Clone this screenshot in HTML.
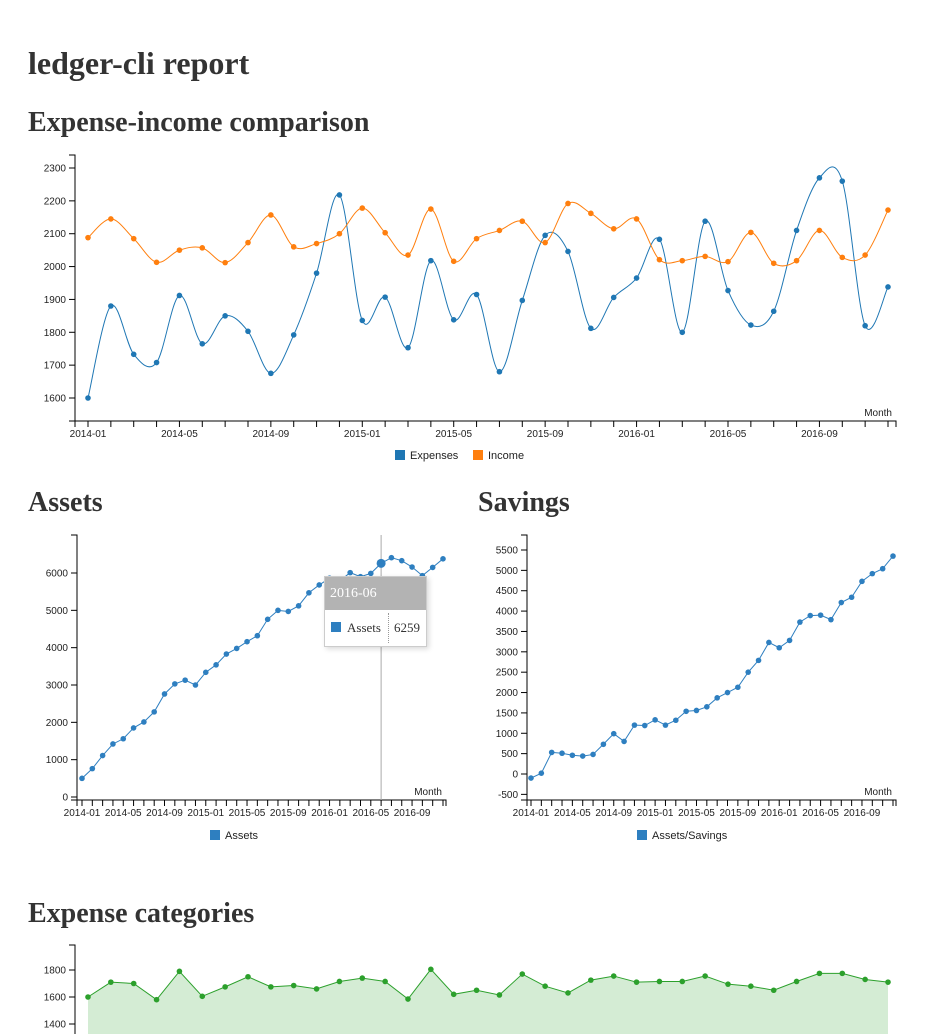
<!DOCTYPE html>
<html><head><meta charset="utf-8">
<style>
body{margin:0;background:#fff;width:927px;height:1034px;overflow:hidden;font-family:"Liberation Serif",serif;color:#333}
h1,h2{position:absolute;margin:0;font-weight:bold;font-family:"Liberation Serif",serif;white-space:nowrap}
h1{font-size:32px;left:28px;top:45px}
h2{font-size:28px}
svg{position:absolute;left:0;top:0}
svg text{font-family:"Liberation Sans",sans-serif;font-size:10px;fill:#222}
</style></head><body>
<h1>ledger-cli report</h1>
<h2 style="left:28px;top:107px">Expense-income comparison</h2>
<h2 style="left:28px;top:487px">Assets</h2>
<h2 style="left:478px;top:487px">Savings</h2>
<h2 style="left:28px;top:898px">Expense categories</h2>
<svg id="chart" width="927" height="1034"></svg>
<div style="position:absolute;left:324px;top:576px;width:101px;height:69px;background:#fff;border:1px solid #ccc;box-shadow:2px 2px 5px rgba(0,0,0,0.15);font-family:'Liberation Serif',serif">
 <div style="background:#b3b3b3;color:#fff;height:33px;line-height:33px;padding-left:5px;font-size:14px">2016-06</div>
 <div style="position:relative;height:35px;font-size:13px;line-height:35px">
  <span style="position:absolute;left:6px;top:12px;width:10px;height:10px;background:#2e7fc0"></span>
  <span style="position:absolute;left:22px">Assets</span>
  <span style="position:absolute;left:63px;top:3px;height:30px;border-left:1px dotted #999"></span>
  <span style="position:absolute;left:69px">6259</span>
 </div>
</div>
<script>
const months=[];for(let y=2014;y<=2016;y++)for(let m=1;m<=12;m++)months.push(y+'-'+String(m).padStart(2,'0'));
const expenses=[1600,1880,1733,1708,1912,1765,1850,1803,1675,1792,1980,2218,1836,1907,1753,2018,1838,1915,1680,1897,2095,2046,1812,1906,1965,2083,1800,2138,1927,1822,1864,2110,2270,2260,1820,1938];
const income=[2088,2145,2085,2013,2050,2057,2012,2073,2157,2060,2070,2100,2178,2103,2035,2175,2016,2085,2110,2138,2073,2192,2162,2115,2145,2021,2018,2031,2015,2104,2010,2018,2110,2028,2035,2172];
const assets=[500,760,1110,1420,1560,1850,2010,2280,2760,3030,3130,3000,3340,3540,3830,3980,4160,4320,4760,5000,4970,5120,5470,5680,5860,5790,6010,5900,5990,6259,6410,6330,6160,5930,6150,6380];
const savings=[-100,20,530,510,460,440,480,730,990,800,1200,1190,1330,1200,1320,1540,1560,1650,1870,2000,2130,2500,2790,3230,3100,3280,3730,3890,3900,3790,4210,4340,4730,4920,5040,5350];
const categories=[1600,1710,1700,1580,1790,1605,1675,1750,1675,1685,1660,1715,1740,1715,1585,1805,1620,1650,1615,1770,1680,1630,1725,1755,1710,1715,1715,1755,1695,1680,1650,1715,1775,1775,1730,1710];
const ticksTop=[1600,1700,1800,1900,2000,2100,2200,2300];
const ticksAssets=[0,1000,2000,3000,4000,5000,6000];
const ticksSavings=[-500,0,500,1000,1500,2000,2500,3000,3500,4000,4500,5000,5500];
const ticksCat=[1400,1600,1800];
const NS='http://www.w3.org/2000/svg';
const svg=document.getElementById('chart');
function el(t,a,p){const e=document.createElementNS(NS,t);for(const k in a)e.setAttribute(k,a[k]);(p||svg).appendChild(e);return e;}
function txt(x,y,s,a,anchor,size){const t=el('text',{x:x,y:y,'text-anchor':anchor||'start'});if(size)t.style.fontSize=size+'px';t.textContent=s;return t;}
function smooth(pts){let d='M'+pts[0][0]+','+pts[0][1];for(let i=0;i<pts.length-1;i++){const p0=pts[i-1]||pts[i],p1=pts[i],p2=pts[i+1],p3=pts[i+2]||p2;d+=' C'+(p1[0]+(p2[0]-p0[0])/6)+','+(p1[1]+(p2[1]-p0[1])/6)+' '+(p2[0]-(p3[0]-p1[0])/6)+','+(p2[1]-(p3[1]-p1[1])/6)+' '+p2[0]+','+p2[1];}return d;}
function chart(o){
 const X=i=>o.x0+(o.x1-o.x0)*i/35;
 const Y=v=>o.yb-(v-o.v0)*(o.yb-o.yt)/(o.v1-o.v0);
 const g=el('g',{});
 
 
 const ya=el('path',{d:'M'+(o.ax-6)+','+o.top+'H'+o.ax+'V'+o.bottom+'H'+(o.ax-6),fill:'none',stroke:'#000'},g);
 
 
 o.ticks.forEach(v=>{el('line',{x1:o.ax-6,x2:o.ax,y1:Y(v),y2:Y(v),stroke:'#000'},g);const t=txt(o.ax-9,Y(v)+3.5,v,0,'end');g.appendChild(t);});
 if(o.xaxis){
  const xa=el('path',{d:'M'+(o.ax)+','+(o.bottom+6)+'V'+o.bottom+'H'+o.xend+'V'+(o.bottom+6),fill:'none',stroke:'#000'},g);
  
  
  months.forEach((m,i)=>{el('line',{x1:X(i),x2:X(i),y1:o.bottom,y2:o.bottom+6,stroke:'#000'},g);if(i%4==0){const t=txt(X(i),o.bottom+16,m,0,'middle');g.appendChild(t);}});
  const ml=txt(o.xend-4,o.bottom-5,'Month',0,'end');g.appendChild(ml);
 }
 if(o.vline){el('line',{x1:X(o.vline),x2:X(o.vline),y1:o.top,y2:o.bottom,stroke:'#aaa'},g);}
 o.series.forEach(s=>{
  const pts=s.data.map((v,i)=>[X(i),Y(v)]);
  if(s.area){const a=el('path',{d:'M'+pts.map(p=>p.join(',')).join('L')+'L'+X(35)+','+o.bottom+'L'+X(0)+','+o.bottom+'Z',fill:'#d4ecd4'},g);}
  const d=s.smooth?smooth(pts):'M'+pts.map(p=>p.join(',')).join('L');
  const l=el('path',{d:d,fill:'none',stroke:s.color,'stroke-width':1},g);
  
  
  pts.forEach((p,i)=>{const c=el('circle',{cx:p[0],cy:p[1],r:(o.vline===i?4.5:2.8),fill:s.color},g);
   
   });
 });
 if(o.legend){let lx=o.legend.x;o.series.forEach(s=>{el('rect',{x:lx,y:o.legend.y-5,width:10,height:10,fill:s.color},g);const t=txt(lx+15,o.legend.y+4,s.label,0,'start',11);g.appendChild(t);lx+=s.w;});}
}
chart({name:'expense-income-chart',x0:88,x1:888,v0:1600,v1:2300,yb:398,yt:168,ax:75,top:155,bottom:421,xend:896,xaxis:true,ticks:ticksTop,
 series:[{key:'expenses',label:'Expenses',data:expenses,color:'#1f77b4',smooth:true,w:78},{key:'income',label:'Income',data:income,color:'#ff7f0e',smooth:true,w:60}],legend:{x:395,y:455}});
chart({name:'assets-chart',x0:82,x1:443,v0:0,v1:6000,yb:797,yt:573,ax:77,top:535,bottom:800,xend:446,xaxis:true,ticks:ticksAssets,vline:29,
 series:[{key:'assets',label:'Assets',data:assets,color:'#2e7fc0',w:60}],legend:{x:210,y:835}});
chart({name:'savings-chart',x0:531,x1:893,v0:0,v1:5500,yb:774,yt:550,ax:527,top:535,bottom:800,xend:896,xaxis:true,ticks:ticksSavings,
 series:[{key:'savings',label:'Assets/Savings',data:savings,color:'#2e7fc0',w:60}],legend:{x:637,y:835}});
chart({name:'expense-categories-chart',x0:88,x1:888,v0:1400,v1:1800,yb:1024,yt:970,ax:75,top:945,bottom:1040,xend:896,xaxis:false,ticks:ticksCat,
 series:[{key:'categories',label:'',data:categories,color:'#2ca02c',area:true,w:60}]});
</script>
</body></html>
